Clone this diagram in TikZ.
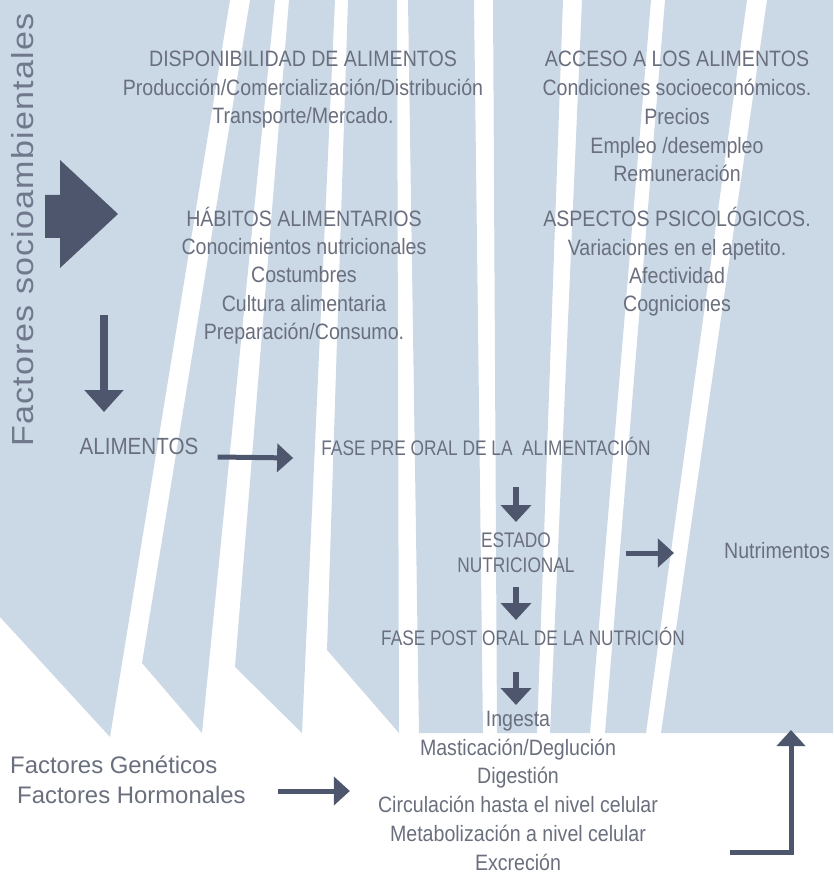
\documentclass[tikz,border=0pt]{standalone}
\usepackage{fontspec}
\setmainfont{Liberation Sans}
\newfontfamily\narrowfont[FakeStretch=0.88]{Liberation Sans}
\newfontfamily\phasefont[FakeStretch=0.82]{Liberation Sans}
\newfontfamily\wideletters[FakeStretch=1.12,LetterSpace=4]{Liberation Sans}
\usepackage{tikz}
\usetikzlibrary{arrows.meta,calc}
\definecolor{bandblue}{RGB}{203,217,230}
\definecolor{inkgray}{RGB}{106,111,126}
\definecolor{sociogray}{RGB}{112,120,140}
\definecolor{arrowslate}{RGB}{78,86,110}

\begin{document}
\begin{tikzpicture}[x=0.03cm, y=-0.03cm,
    txt/.style={inner sep=0pt, text=inkgray, align=center, anchor=base},
    bloque/.style={txt, font=\narrowfont\fontsize{19}{24.75}\selectfont},
    fase/.style={txt, font=\phasefont\fontsize{18}{21.3}\selectfont},
    flecha/.style={arrowslate, line width=0.15cm, -{Triangle[length=0.48cm, width=0.84cm]}},
    bajada/.style={arrowslate, line width=0.18cm, -{Triangle[length=0.51cm, width=0.9cm]}},
    caida/.style={arrowslate, line width=0.24cm, -{Triangle[length=0.66cm, width=1.14cm]}}]

    \useasboundingbox (0,0) rectangle (833,879);

    % Bands behind the text
    \foreach \tl/\tr/\br/\yr/\bl/\yl in {0/230/110/737/0/617, 250/275/202/733/142/663,
        289/335/302/733/235/667, 348/397/399/733/327/650, 408/474/483/733/419/733,
        493/563/537/733/497/733, 582/651/590/733/550/733, 665/747/646/733/605/733,
        767/833/833/733/661/733} {
        \fill[bandblue] (\tl,0) -- (\tr,0) -- (\br,\yr) -- (\bl,\yl) -- cycle;
    }

    % Side label and block arrow
    \node[rotate=90, anchor=base, inner sep=0pt, text=sociogray,
        font=\wideletters\fontsize{26}{30}\selectfont] (socio) at (33,230) {Factores socioambientales};
    \fill[arrowslate] (45,195) -- (60,195) -- (60,160) -- (118,214) -- (60,268) -- (60,238) -- (45,238) -- cycle;

    % Upper blocks (placed by their last line)
    \node[bloque] (disp) at (303,124) {DISPONIBILIDAD DE ALIMENTOS\\Producción/Comercialización/Distribución\\Transporte/Mercado.};
    \node[bloque] (acceso) at (677,182) {ACCESO A LOS ALIMENTOS\\Condiciones socioeconómicos.\\Precios\\Empleo /desempleo\\Remuneración};
    \node[bloque, font=\narrowfont\fontsize{19}{23.9}\selectfont] (habitos) at (304,339) {HÁBITOS ALIMENTARIOS\\Conocimientos nutricionales\\Costumbres\\Cultura alimentaria\\Preparación/Consumo.};
    \node[bloque, font=\narrowfont\fontsize{19}{23.9}\selectfont] (psico) at (677,311) {ASPECTOS PSICOLÓGICOS.\\Variaciones en el apetito.\\Afectividad\\Cogniciones};

    % Middle chain
    \node[bloque, font=\narrowfont\fontsize{20}{24}\selectfont] (alim) at (139,454) {ALIMENTOS};
    \node[fase] (prefase) at (486,455) {FASE PRE ORAL DE LA\ \ ALIMENTACIÓN};
    \node[fase] (estado) at (516,572) {ESTADO\\NUTRICIONAL};
    \node[bloque] (nutri) at (777,558) {Nutrimentos};
    \node[fase] (postfase) at (533,645) {FASE POST ORAL DE LA NUTRICIÓN};
    \node[bloque, font=\narrowfont\fontsize{19}{24.5}\selectfont] (proceso) at (518,870) {Ingesta\\Masticación/Deglución\\Digestión\\Circulación hasta el nivel celular\\Metabolización a nivel celular\\Excreción};

    % Lower left
    \node[txt, anchor=base west, font=\fontsize{20.4}{24}\selectfont] (genet) at (10,773) {Factores Genéticos};
    \node[txt, anchor=base west, font=\fontsize{20.4}{24}\selectfont] (hormon) at (17,803) {Factores Hormonales};

    % Arrows
    \coordinate (bajo) at (104,315);
    \draw[caida] (bajo) -- ($(bajo |- alim.base)+(0,-42)$);
    \draw[flecha] ($(alim.base east)+(19,3)$) -- ($(prefase.base west)+(-28,3)$);
    \draw[bajada] ($(estado.base |- prefase.base)+(0,32)$) -- ($(estado.base)+(0,-50)$);
    \draw[bajada] ($(estado.base)+(0,15)$) -- ($(estado.base |- postfase.base)+(0,-25)$);
    \draw[bajada] ($(estado.base |- postfase.base)+(0,27)$) -- ($(estado.base |- postfase.base)+(0,60)$);
    \draw[flecha] ($(estado.east |- nutri.base)+(51,-5)$) -- ($(nutri.base west)+(-50,-5)$);
    \draw[flecha] ($(hormon.base east)+(32,-12)$) -- ($(proceso.west |- hormon.base)+(-28,-12)$);
    \coordinate (retorno) at (730,852);
    \coordinate (retornofin) at (791,730);
    \draw[flecha] (retorno) -| (retornofin);
\end{tikzpicture}
\end{document}
